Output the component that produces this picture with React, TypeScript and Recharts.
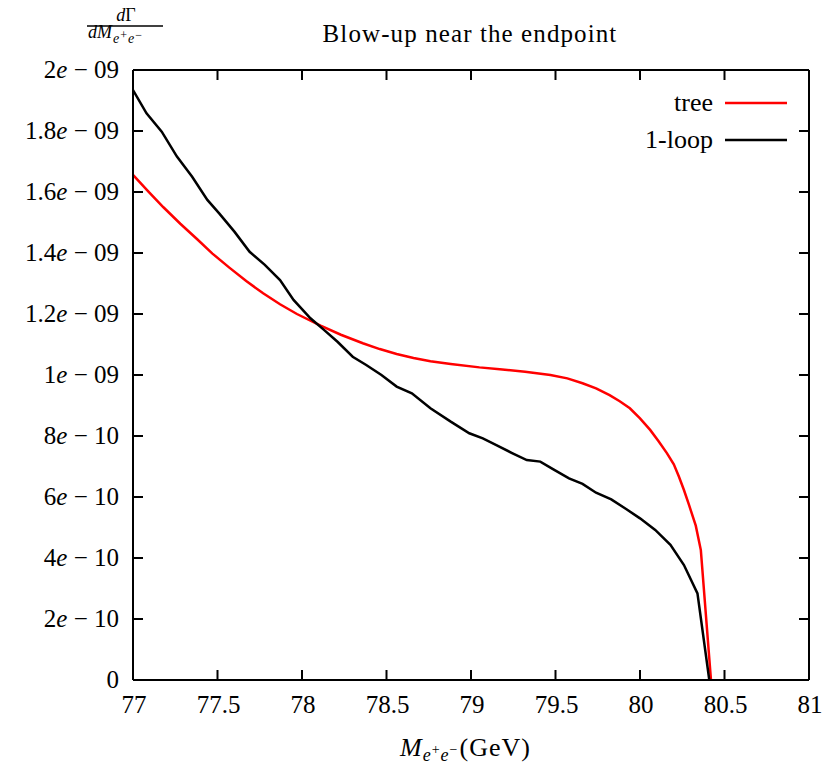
import React from "react";
import { LineChart, Line, XAxis, YAxis, Customized } from "recharts";

const treeX = [77.0, 77.09, 77.18, 77.28, 77.38, 77.47, 77.57, 77.67, 77.77, 77.87, 77.97, 78.11, 78.23, 78.36, 78.46, 78.56, 78.66, 78.76, 78.88, 79.05, 79.17, 79.32, 79.47, 79.57, 79.66, 79.74, 79.82, 79.88, 79.94, 80.0, 80.06, 80.11, 80.16, 80.2, 80.23, 80.26, 80.29, 80.33, 80.36, 80.42];
const treeY = [1.656e-9, 1.602e-9, 1.55e-9, 1.496e-9, 1.445e-9, 1.398e-9, 1.352e-9, 1.308e-9, 1.268e-9, 1.232e-9, 1.2e-9, 1.162e-9, 1.132e-9, 1.104e-9, 1.085e-9, 1.069e-9, 1.056e-9, 1.045e-9, 1.036e-9, 1.025e-9, 1.019e-9, 1.011e-9, 1.0e-9, 0.989e-9, 0.973e-9, 0.956e-9, 0.934e-9, 0.914e-9, 0.891e-9, 0.858e-9, 0.82e-9, 0.783e-9, 0.743e-9, 0.707e-9, 0.667e-9, 0.623e-9, 0.574e-9, 0.506e-9, 0.426e-9, 0];

const loopX = [77.0, 77.08, 77.17, 77.26, 77.35, 77.44, 77.51, 77.6, 77.69, 77.78, 77.87, 77.95, 78.05, 78.13, 78.21, 78.3, 78.38, 78.47, 78.56, 78.65, 78.76, 78.88, 78.99, 79.07, 79.15, 79.24, 79.33, 79.41, 79.49, 79.58, 79.66, 79.74, 79.83, 79.92, 80.0, 80.09, 80.18, 80.26, 80.34, 80.41];
const loopY = [1.934e-9, 1.858e-9, 1.798e-9, 1.716e-9, 1.65e-9, 1.574e-9, 1.53e-9, 1.47e-9, 1.404e-9, 1.361e-9, 1.311e-9, 1.246e-9, 1.186e-9, 1.148e-9, 1.109e-9, 1.06e-9, 1.033e-9, 1.0e-9, 0.962e-9, 0.94e-9, 0.891e-9, 0.847e-9, 0.809e-9, 0.792e-9, 0.77e-9, 0.745e-9, 0.721e-9, 0.716e-9, 0.69e-9, 0.661e-9, 0.643e-9, 0.614e-9, 0.592e-9, 0.56e-9, 0.53e-9, 0.492e-9, 0.443e-9, 0.377e-9, 0.284e-9, 0];

const xTicks = [77, 77.5, 78, 78.5, 79, 79.5, 80, 80.5, 81];
const yTicks = [0, 2e-10, 4e-10, 6e-10, 8e-10, 1e-9, 1.2e-9, 1.4e-9, 1.6e-9, 1.8e-9, 2e-9];

const treeData = treeX.map((x, i) => ({ x, y: treeY[i] }));
const loopData = loopX.map((x, i) => ({ x, y: loopY[i] }));

const FONT = "'Liberation Serif', 'Times New Roman', serif";
const ts = { fontFamily: FONT } as React.CSSProperties;

function splitY(v: number): [string, string] | null {
  if (v === 0) return null;
  const m9 = Math.round((v / 1e-9) * 10) / 10;
  if (m9 >= 1) return [String(m9), "09"];
  return [String(Math.round(v / 1e-10)), "10"];
}

const LeftTick = (props: any) => {
  const { x, y, payload } = props;
  const parts = splitY(payload.value);
  return (
    <g>
      <line x1={x} y1={y} x2={x + 10} y2={y} stroke="#000" strokeWidth={2} />
      <text x={x - 14} y={y + 8} textAnchor="end" style={ts} fontSize={25} fill="#000">
        {parts ? (
          <>
            <tspan>{parts[0]}</tspan>
            <tspan fontStyle="italic">e</tspan>
            <tspan>{" \u2212 " + parts[1]}</tspan>
          </>
        ) : (
          "0"
        )}
      </text>
    </g>
  );
};

const RightTick = (props: any) => {
  const { x, y } = props;
  return <line x1={x} y1={y} x2={x - 10} y2={y} stroke="#000" strokeWidth={2} />;
};

const BottomTick = (props: any) => {
  const { x, y, payload } = props;
  return (
    <g>
      <line x1={x} y1={y} x2={x} y2={y - 10} stroke="#000" strokeWidth={2} />
      <text x={x + 1} y={y + 33} textAnchor="middle" style={ts} fontSize={25} fill="#000">
        {String(payload.value)}
      </text>
    </g>
  );
};

const TopTick = (props: any) => {
  const { x, y } = props;
  return <line x1={x} y1={y} x2={x} y2={y + 10} stroke="#000" strokeWidth={2} />;
};

const Annotations = () => (
  <g fill="#000">
    <text x={470} y={42} textAnchor="middle" style={ts} fontSize={25} letterSpacing={1.1}>Blow-up near the endpoint</text>
    <text x={126} y={21} textAnchor="middle" style={ts} fontSize={18}>
      <tspan fontStyle="italic">d</tspan>
      <tspan>Γ</tspan>
    </text>
    <line x1={87} y1={26} x2={163} y2={26} stroke="#000" strokeWidth={1.4} />
    <text x={88} y={38} style={ts} fontSize={18}>
      <tspan fontStyle="italic">dM</tspan>
      <tspan fontStyle="italic" fontSize={14} dy={5} dx={1}>e</tspan>
      <tspan fontSize={12} dy={-4} dx={1}>+</tspan>
      <tspan fontStyle="italic" fontSize={14} dy={4} dx={1}>e</tspan>
      <tspan fontSize={12} dy={-4} dx={1}>−</tspan>
    </text>
    <text x={400} y={756} style={ts} fontSize={26}>
      <tspan fontStyle="italic">M</tspan>
      <tspan fontStyle="italic" fontSize={18} dy={5} dx={1}>e</tspan>
      <tspan fontSize={14} dy={-7} dx={1}>+</tspan>
      <tspan fontStyle="italic" fontSize={18} dy={7} dx={1}>e</tspan>
      <tspan fontSize={14} dy={-7} dx={1}>−</tspan>
      <tspan dy={2} dx={2} letterSpacing={1}>(GeV)</tspan>
    </text>
    <text x={713} y={111} textAnchor="end" style={ts} fontSize={26}>tree</text>
    <line x1={725} y1={103} x2={787} y2={103} stroke="#ff0000" strokeWidth={2.5} />
    <text x={713} y={148} textAnchor="end" style={ts} fontSize={26}>1-loop</text>
    <line x1={725} y1={140} x2={787} y2={140} stroke="#000" strokeWidth={2.5} />
  </g>
);

export default function App() {
  return (
    <div style={{ position: "absolute", left: 0, top: 0, width: 839, height: 768, background: "#fff" }}>
      <LineChart width={839} height={768} margin={{ top: 0, right: 0, bottom: 0, left: 0 }}>
        <XAxis
          xAxisId="bottom"
          dataKey="x"
          type="number"
          domain={[77, 81]}
          ticks={xTicks}
          orientation="bottom"
          height={88}
          tickSize={0}
          tickMargin={0}
          tickLine={false}
          axisLine={{ stroke: "#000", strokeWidth: 2 }}
          tick={<BottomTick />}
          allowDataOverflow
        />
        <XAxis
          xAxisId="top"
          dataKey="x"
          type="number"
          domain={[77, 81]}
          ticks={xTicks}
          orientation="top"
          height={70}
          tickSize={0}
          tickMargin={0}
          tickLine={false}
          axisLine={{ stroke: "#000", strokeWidth: 2 }}
          tick={<TopTick />}
          allowDataOverflow
        />
        <YAxis
          yAxisId="left"
          type="number"
          domain={[0, 2e-9]}
          ticks={yTicks}
          orientation="left"
          width={133}
          tickSize={0}
          tickMargin={0}
          tickLine={false}
          axisLine={{ stroke: "#000", strokeWidth: 2 }}
          tick={<LeftTick />}
          allowDataOverflow
        />
        <YAxis
          yAxisId="right"
          type="number"
          domain={[0, 2e-9]}
          ticks={yTicks}
          orientation="right"
          width={30}
          tickSize={0}
          tickMargin={0}
          tickLine={false}
          axisLine={{ stroke: "#000", strokeWidth: 2 }}
          tick={<RightTick />}
          allowDataOverflow
        />
        <Line
          data={treeData}
          xAxisId="bottom"
          yAxisId="left"
          dataKey="y"
          type="linear"
          stroke="#ff0000"
          strokeWidth={2.5}
          dot={false}
          isAnimationActive={false}
        />
        <Line
          data={loopData}
          xAxisId="bottom"
          yAxisId="left"
          dataKey="y"
          type="linear"
          stroke="#000"
          strokeWidth={2.5}
          dot={false}
          isAnimationActive={false}
        />
        <Customized component={Annotations} />
      </LineChart>
    </div>
  );
}
